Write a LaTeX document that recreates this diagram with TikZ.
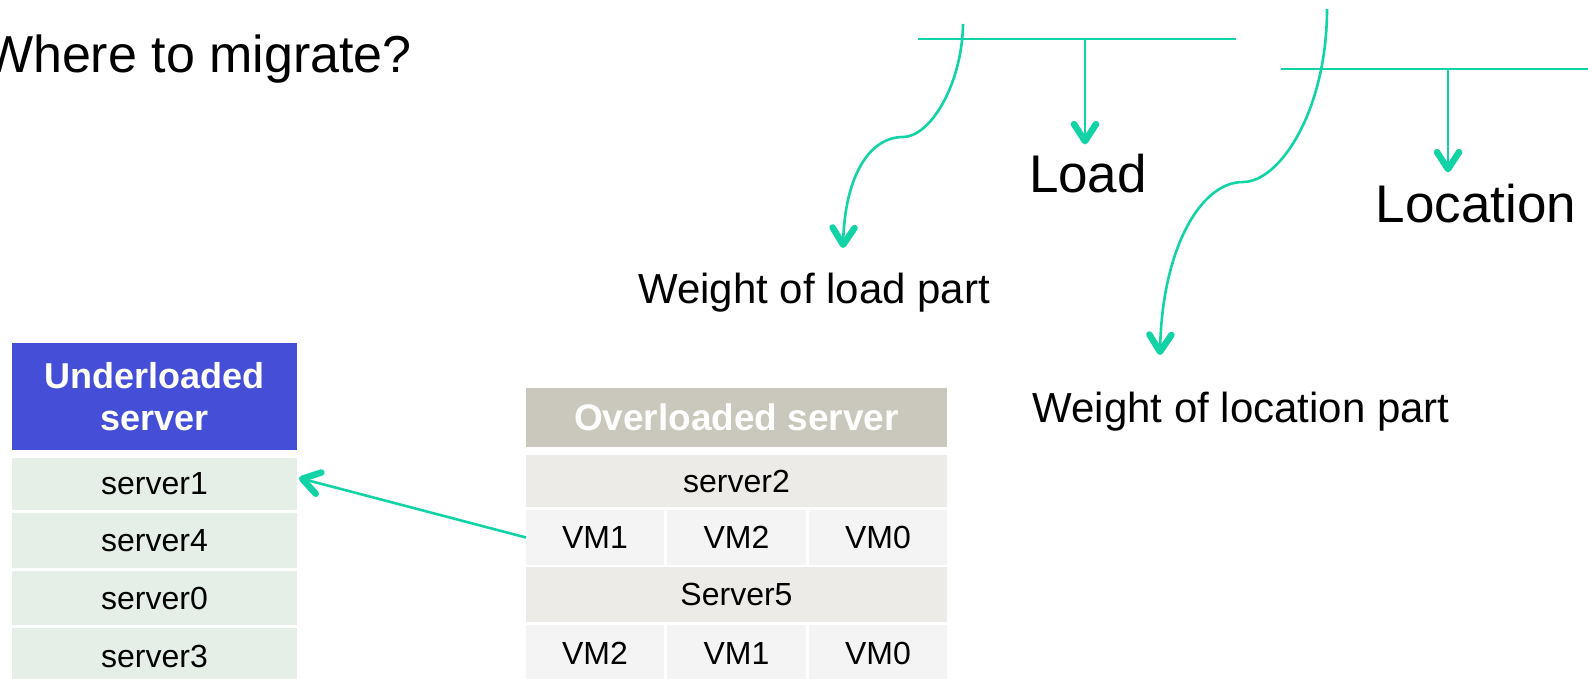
\documentclass[tikz,border=0pt]{standalone}
\usepackage{fontspec}
\setmainfont{Liberation Sans}
\usetikzlibrary{arrows.meta,calc}

\definecolor{mint}{HTML}{12D3A6}
\definecolor{ublue}{HTML}{444ED6}
\definecolor{urow}{HTML}{E6EEE8}
\definecolor{ohead}{HTML}{CAC8BC}
\definecolor{orow}{HTML}{ECEBE7}
\definecolor{ocell}{HTML}{F4F4F4}

\begin{document}
\begin{tikzpicture}[x=1pt,y=-1pt,
  link/.style={draw=mint,line width=2.6pt},
  tipped/.style={link,-{Straight Barb[length=17pt,width=22pt,line width=6.5pt,round]}},
  big/.style={font={\fontsize{53}{62}\selectfont}},
  mid/.style={font={\fontsize{42}{50}\selectfont}},
  cellbase/.style={inner sep=0pt,outer sep=0pt,text=black,
    font={\fontsize{32}{38}\selectfont}},
  ucell/.style={cellbase,fill=urow,minimum width=285pt},
  orowc/.style={cellbase,fill=orow,minimum width=421pt},
  vmcell/.style={cellbase,fill=ocell},
  headbase/.style={inner sep=0pt,outer sep=0pt,text=white,align=center,
    font={\fontsize{36}{42}\bfseries\selectfont}}
]
\useasboundingbox (0,0) rectangle (1588,679);

% title
\node[anchor=base east,inner sep=0pt,font={\fontsize{52}{60}\selectfont}]
  (title) at (412,73) {Where to migrate?};

% load branch
\coordinate (barAw) at (918,39);
\coordinate (barAe) at (1236,39);
\coordinate (barAm) at (1085,39);
\draw[link] (barAw) -- (barAe);
\node[big,anchor=base,inner sep=10pt] (load) at (1088,193) {Load};
\draw[tipped] (barAm) -- (barAm |- load.north);

\node[mid,anchor=base,inner sep=0pt] (wload) at (814,303) {Weight of load part};
\coordinate (curveAtop) at (963,24);
\coordinate (curveAmid) at (903,137);
\coordinate (curveAend) at (843,248);
\draw[tipped] (curveAtop) .. controls (962,85) and (930,137) .. (curveAmid)
  .. controls (870,137) and (845,175) .. (curveAend);

% location branch
\coordinate (barBw) at (1281,69);
\coordinate (barBe) at (1600,69);
\coordinate (barBm) at (1448,69);
\draw[link] (barBw) -- (barBe);
\node[big,anchor=base,inner sep=12pt] (loc) at (1476,223) {Location};
\draw[tipped] (barBm) -- (barBm |- loc.north);

\node[mid,anchor=base,inner sep=0pt] (wloc) at (1241,422) {Weight of location part};
\coordinate (curveBtop) at (1327,9);
\coordinate (curveBmid) at (1243,182);
\coordinate (curveBend) at (1160,355);
\draw[tipped] (curveBtop) .. controls (1327,110) and (1280,182) .. (curveBmid)
  .. controls (1200,182) and (1162,250) .. (curveBend);

% underloaded server list
\node[headbase,fill=ublue,minimum width=285pt,minimum height=107pt]
  (uhead) at (154.5,396.5) {Underloaded\\server};
\node[ucell,minimum height=52pt] (s1) at (154.5,484) {server1};
\node[ucell,minimum height=55pt] (s4) at (154.5,540.5) {server4};
\node[ucell,minimum height=54pt] (s0) at (154.5,598) {server0};
\node[ucell,minimum height=56pt] (s3) at (154.5,656) {server3};

% overloaded server table
\node[headbase,fill=ohead,minimum width=421pt,minimum height=59pt,
  font={\fontsize{37}{44}\bfseries\selectfont}]
  (ohead) at (736.5,417.5) {Overloaded server};
\node[orowc,minimum height=52pt] (srv2) at (736.5,481) {server2};
\node[vmcell,minimum width=138pt,minimum height=55pt] (vmA1) at (595,537.5) {VM1};
\node[vmcell,minimum width=139pt,minimum height=55pt] (vmA2) at (736.5,537.5) {VM2};
\node[vmcell,minimum width=138pt,minimum height=55pt] (vmA0) at (878,537.5) {VM0};
\node[orowc,minimum height=55pt] (srv5) at (736.5,594.5) {Server5};
\node[vmcell,minimum width=138pt,minimum height=57pt] (vmB2) at (595,653.5) {VM2};
\node[vmcell,minimum width=139pt,minimum height=57pt] (vmB1) at (736.5,653.5) {VM1};
\node[vmcell,minimum width=138pt,minimum height=57pt] (vmB0) at (878,653.5) {VM0};

% migration arrow
\draw[tipped] (vmA1.west) -- ([shift={(2,-6)}]s1.east);
\end{tikzpicture}
\end{document}
